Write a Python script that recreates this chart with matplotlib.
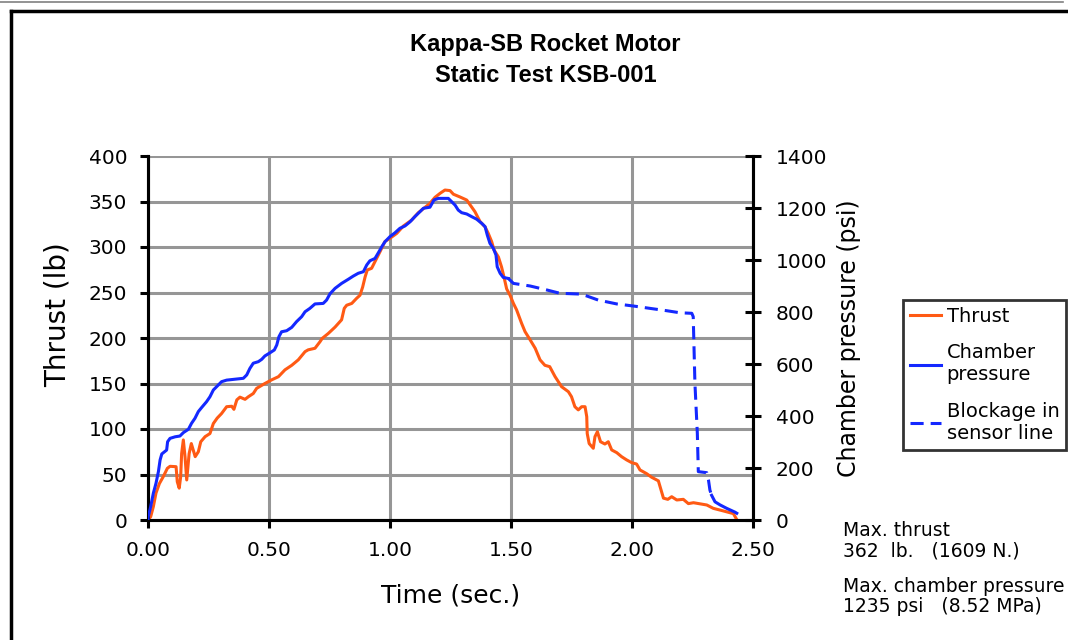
import matplotlib
matplotlib.use("Agg")
import matplotlib.pyplot as plt
from matplotlib.lines import Line2D
from matplotlib.ticker import FormatStrFormatter, MultipleLocator

# thrust trace (sec, lb)
thrust_t = [0.0, 0.011, 0.022, 0.033, 0.047, 0.063, 0.080, 0.091, 0.116, 0.121,
            0.129, 0.135, 0.139, 0.146, 0.153, 0.160, 0.170, 0.179, 0.187, 0.195,
            0.208, 0.218, 0.236, 0.256, 0.270, 0.286, 0.304, 0.325, 0.346, 0.355,
            0.367, 0.380, 0.401, 0.415, 0.435, 0.449, 0.483, 0.511, 0.539, 0.566,
            0.594, 0.621, 0.649, 0.662, 0.690, 0.711, 0.720, 0.745, 0.773, 0.800,
            0.811, 0.821, 0.842, 0.862, 0.876, 0.887, 0.897, 0.906, 0.924, 0.945,
            0.959, 0.979, 1.000, 1.028, 1.055, 1.090, 1.117, 1.145, 1.165, 1.186,
            1.207, 1.227, 1.248, 1.262, 1.289, 1.317, 1.337, 1.351, 1.372, 1.393,
            1.406, 1.420, 1.430, 1.448, 1.461, 1.471, 1.482, 1.496, 1.510, 1.523,
            1.544, 1.558, 1.579, 1.600, 1.620, 1.640, 1.660, 1.682, 1.709, 1.737,
            1.750, 1.764, 1.778, 1.792, 1.806, 1.813, 1.815, 1.823, 1.840, 1.847,
            1.857, 1.870, 1.888, 1.902, 1.916, 1.937, 1.957, 1.978, 1.999, 2.019,
            2.033, 2.060, 2.081, 2.109, 2.120, 2.130, 2.148, 2.164, 2.185, 2.212,
            2.233, 2.254, 2.309, 2.336, 2.377, 2.419, 2.430]
thrust_lb = [0, 3.6, 14.6, 29.6, 40, 47.6, 56.8, 59, 58.6, 42,
             35, 47.6, 73, 88, 69.6, 44, 73, 84, 77, 69.6,
             75, 86, 91.6, 95, 106, 112, 117, 124.5, 125, 121.6,
             132, 135, 132.6, 135.5, 139, 144.7, 150, 154, 157.5, 165,
             170, 176, 185, 187, 188.7, 196, 199.6, 205, 212, 220,
             232.6, 236, 238, 243.6, 247, 256, 267, 274.7, 276.6, 287.6,
             295, 306, 309.6, 315, 323, 329.7, 337.7, 343.6, 348, 354.6,
             359, 362.6, 362, 358, 355, 351.6, 344, 338.8, 328, 322,
             315, 306, 296.7, 289, 278, 267, 254, 247, 238, 231,
             216, 207, 198, 188.7, 176, 170, 168.5, 157.6, 146.5, 141,
             135.5, 124.5, 121, 124.5, 124.5, 113.5, 95, 84, 78.8, 91.6,
             97, 86, 83.5, 86, 77, 74, 69.6, 66, 63, 61.5,
             55, 51, 47, 43, 33, 24, 22.7, 25.6, 22, 22.7,
             18, 19, 16.5, 12.8, 10, 7, 1.8]

# chamber pressure (sec, psi)
press_t = [0.0, 0.001, 0.011, 0.022, 0.033, 0.043, 0.050, 0.057, 0.077, 0.081,
           0.091, 0.112, 0.132, 0.146, 0.167, 0.180, 0.194, 0.208, 0.222, 0.242,
           0.256, 0.270, 0.286, 0.304, 0.325, 0.394, 0.408, 0.421, 0.435, 0.456,
           0.470, 0.483, 0.504, 0.522, 0.532, 0.541, 0.552, 0.573, 0.594, 0.614,
           0.635, 0.649, 0.669, 0.690, 0.724, 0.738, 0.752, 0.773, 0.800, 0.828,
           0.848, 0.869, 0.890, 0.904, 0.917, 0.938, 0.952, 0.966, 0.979, 1.000,
           1.021, 1.041, 1.062, 1.083, 1.103, 1.124, 1.138, 1.165, 1.182, 1.200,
           1.241, 1.255, 1.269, 1.282, 1.296, 1.317, 1.337, 1.358, 1.379, 1.393,
           1.402, 1.413, 1.427, 1.438, 1.443, 1.455, 1.468, 1.489]
press_psi = [0, 13, 51, 103, 141, 186, 231, 254, 269, 301,
             314, 320, 323, 336, 349, 372, 391, 417, 433, 455,
             474, 500, 515, 532, 538, 545, 558, 583, 603, 609,
             618, 631, 643, 654, 673, 705, 724, 728, 741, 763,
             782, 801, 814, 831, 833, 846, 870, 891, 910, 926,
             938, 949, 955, 981, 997, 1006, 1028, 1051, 1070, 1090,
             1105, 1122, 1131, 1147, 1167, 1186, 1199, 1203, 1231, 1237,
             1237, 1224, 1211, 1192, 1182, 1177, 1167, 1157, 1141, 1128,
             1096, 1064, 1045, 1019, 974, 949, 933, 929]

# blocked sensor line part (dashed)
block_t = [1.489, 1.510, 1.579, 1.647, 1.702, 1.785, 1.812, 1.860, 1.937, 2.006,
           2.074, 2.143, 2.198, 2.247, 2.253, 2.260, 2.270, 2.274, 2.309, 2.316,
           2.322, 2.329]
block_psi = [929, 910, 900, 885, 872, 869, 862, 846, 831, 823,
             814, 805, 797, 795, 782, 526, 333, 186, 182, 154,
             115, 95]

# tail after the blockage
tail_t = [2.329, 2.343, 2.364, 2.391, 2.426, 2.433]
tail_psi = [95, 70, 58, 45, 30, 26]

ORANGE = "#ff5a14"
BLUE = "#1428ff"
GRID = "#969696"
TITLE_FONT = ["Liberation Sans", "DejaVu Sans"]

plt.rcParams["font.family"] = ["DejaVu Sans"]

fig = plt.figure(figsize=(10.68, 6.4), dpi=100)
ax = fig.add_axes([148 / 1068, 1 - 520 / 640, 605 / 1068, 364 / 640])
ax2 = ax.twinx()

# outer frame like the old spreadsheet chart
fig.add_artist(Line2D([0, 1063 / 1068], [1 - 1.5 / 640] * 2, color="#808080", lw=1.2,
                      transform=fig.transFigure))
fig.add_artist(Line2D([11 / 1068, 1.0], [1 - 11 / 640] * 2, color="black", lw=2.5,
                      transform=fig.transFigure))
fig.add_artist(Line2D([11 / 1068] * 2, [0, 1 - 11 / 640], color="black", lw=2.5,
                      transform=fig.transFigure))

l1, = ax.plot(thrust_t, thrust_lb, color=ORANGE, lw=2.2, zorder=3)
l2, = ax2.plot(press_t, press_psi, color=BLUE, lw=2.2, zorder=3)
l3, = ax2.plot(block_t, block_psi, color=BLUE, lw=2.2, dashes=(4.3, 2.3), zorder=3)
ax2.plot(tail_t, tail_psi, color=BLUE, lw=2.2, zorder=3)

ax.set_xlim(0, 2.5)
ax.set_ylim(0, 400)
ax2.set_ylim(0, 1400)
ax.xaxis.set_major_locator(MultipleLocator(0.5))
ax.xaxis.set_major_formatter(FormatStrFormatter("%.2f"))
ax.yaxis.set_major_locator(MultipleLocator(50))
ax2.yaxis.set_major_locator(MultipleLocator(200))

ax.grid(True, color=GRID, lw=2.2)
ax.set_axisbelow(True)

for a in (ax, ax2):
    a.spines["top"].set_visible(False)
    for s in ("left", "bottom", "right"):
        a.spines[s].set_linewidth(2.2)
        a.spines[s].set_color("black")

ax.tick_params(axis="y", direction="out", length=6, width=2.2, pad=9, labelsize=14.5)
ax.tick_params(axis="x", direction="out", length=6, width=2.2, pad=9, labelsize=14.5)
ax2.tick_params(axis="y", direction="inout", length=11, width=2.2, pad=11, labelsize=14.5)

ax.set_xlabel("Time (sec.)", fontsize=18, labelpad=17)
ax.set_ylabel("Thrust (lb)", fontsize=20)
ax.yaxis.set_label_coords(-0.126, 0.563)
ax2.set_ylabel("Chamber pressure (psi)", fontsize=17, labelpad=7)

fig.text(0.511, 1 - 44 / 640, "Kappa-SB Rocket Motor", ha="center", va="center",
         fontsize=17, fontweight="bold", family=TITLE_FONT)
fig.text(0.511, 1 - 75 / 640, "Static Test KSB-001", ha="center", va="center",
         fontsize=17, fontweight="bold", family=TITLE_FONT)

leg = fig.legend([l1, l2, l3], ["Thrust", "Chamber\npressure", "Blockage in\nsensor line"],
                 loc="upper left", bbox_to_anchor=(903 / 1068, 1 - 300 / 640),
                 fontsize=14, frameon=True, fancybox=False, handlelength=1.6,
                 handletextpad=0.3, borderpad=0.35, labelspacing=0.9,
                 borderaxespad=0)
leg.get_frame().set_edgecolor("black")
leg.get_frame().set_linewidth(2)

fig.text(843 / 1068, 1 - 530 / 640, "Max. thrust", fontsize=13.5, va="center")
fig.text(843 / 1068, 1 - 551 / 640, "362  lb.   (1609 N.)", fontsize=13.5, va="center")
fig.text(843 / 1068, 1 - 587 / 640, "Max. chamber pressure", fontsize=13.5, va="center")
fig.text(843 / 1068, 1 - 607 / 640, "1235 psi   (8.52 MPa)", fontsize=13.5, va="center")

fig.savefig("out.png", dpi=100)
